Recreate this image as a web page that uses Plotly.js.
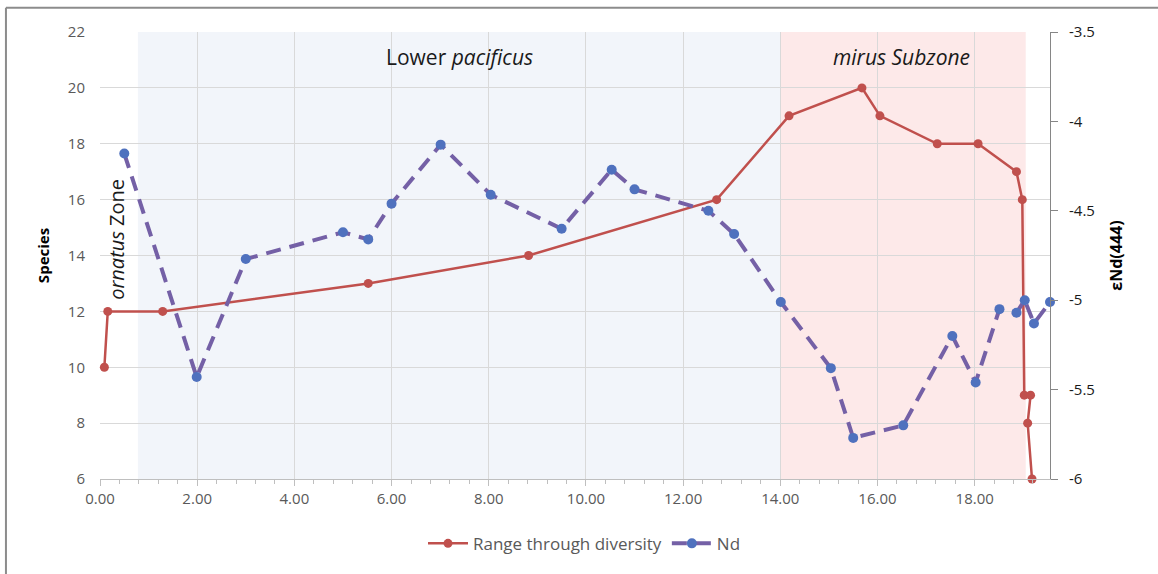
<!DOCTYPE html>
<html>
<head>
<meta charset="utf-8">
<script src="https://cdn.plot.ly/plotly-3.0.1.min.js"></script>
<style>
  html, body { margin: 0; padding: 0; background: #fff; }
  #chart { width: 1158px; height: 574px; }
</style>
</head>
<body>
<div id="chart"></div>
<script>
// Range through diversity (left axis: species)
const diversityX = [0.09, 0.16, 1.29, 5.52, 8.82, 12.69, 14.18, 15.68, 16.05, 17.23, 18.07, 18.86, 18.98, 19.02, 19.15, 19.09, 19.18];
const diversityY = [10, 12, 12, 13, 14, 16, 19, 20, 19, 18, 18, 17, 16, 9, 9, 8, 6];

// Nd (right axis: εNd(444))
const ndX = [0.5, 1.99, 3.0, 5.0, 5.52, 6.0, 7.01, 8.04, 9.5, 10.53, 11.0, 12.52, 13.05, 14.01, 15.04, 15.5, 16.53, 17.54, 18.02, 18.51, 18.86, 19.03, 19.22, 19.55];
const ndY = [-4.18, -5.43, -4.77, -4.62, -4.66, -4.46, -4.13, -4.41, -4.6, -4.27, -4.38, -4.5, -4.63, -5.01, -5.38, -5.77, -5.7, -5.2, -5.46, -5.05, -5.07, -5.0, -5.13, -5.01];

// Zone shading bounds (x units)
const lowerPacificus = [0.78, 14.0];
const mirusSubzone = [14.0, 19.05];

// Tick labels
const xTickVals = [0, 2, 4, 6, 8, 10, 12, 14, 16, 18];
const xTickText = ['0.00', '2.00', '4.00', '6.00', '8.00', '10.00', '12.00', '14.00', '16.00', '18.00'];
const y2TickVals = [-3.5, -4, -4.5, -5, -5.5, -6];
const y2TickText = ['-3.5', '-4', '-4.5', '-5', '-5.5', '-6'];

const FONT = '"Open Sans", Lato, "Liberation Sans", sans-serif';

const traces = [
  {
    x: diversityX, y: diversityY, name: 'Range through diversity',
    type: 'scatter', mode: 'lines+markers',
    line: { color: '#C0504D', width: 2.5 },
    marker: { color: '#C0504D', size: 9 },
    cliponaxis: false,
    yaxis: 'y'
  },
  {
    x: ndX, y: ndY, name: 'Nd',
    type: 'scatter', mode: 'lines+markers',
    line: { color: '#7460A6', width: 4, dash: '15px,9px' },
    marker: { color: '#4F71BE', size: 10 },
    cliponaxis: false,
    yaxis: 'y2'
  }
];

const layout = {
  width: 1158, height: 574,
  margin: { l: 100, r: 108, t: 32, b: 92 },
  paper_bgcolor: '#ffffff',
  plot_bgcolor: '#ffffff',
  font: { family: FONT, size: 15, color: '#595959' },
  showlegend: true,
  legend: {
    orientation: 'h', x: 0.51, xanchor: 'center', y: -0.145, yanchor: 'middle',
    font: { family: FONT, size: 17, color: '#595959' },
    itemwidth: 40
  },
  xaxis: {
    range: [0, 19.55],
    tickvals: xTickVals, ticktext: xTickText,
    showgrid: true, gridcolor: '#D9D9D9', gridwidth: 1,
    zeroline: false,
    showline: true, linecolor: '#BFBFBF', linewidth: 1,
    ticks: 'outside', ticklen: 6, tickcolor: '#BFBFBF',
    minor: { dtick: 0.4, ticks: 'outside', ticklen: 4, tickcolor: '#BFBFBF', showgrid: false },
    tickfont: { family: FONT, size: 15, color: '#595959' }
  },
  yaxis: {
    range: [6, 22], dtick: 2,
    showgrid: true, gridcolor: '#D9D9D9', gridwidth: 1,
    zeroline: false, showline: false, ticks: '',
    ticklabelstandoff: 14,
    tickfont: { family: FONT, size: 15, color: '#595959' },
    title: { text: '<b>Species</b>', font: { family: FONT, size: 15, color: '#000000' }, standoff: 14 }
  },
  yaxis2: {
    overlaying: 'y', side: 'right',
    range: [-6, -3.5],
    tickvals: y2TickVals, ticktext: y2TickText,
    showgrid: false, zeroline: false,
    showline: true, linecolor: '#868686', linewidth: 1,
    ticks: 'outside', ticklen: 7, tickcolor: '#868686',
    ticklabelstandoff: 8,
    tickfont: { family: FONT, size: 15, color: '#1a1a1a' },
    title: { text: '<b>εNd(444)</b>', font: { family: FONT, size: 16, color: '#000000' }, standoff: 16 }
  },
  shapes: [
    { type: 'rect', xref: 'x', yref: 'paper', x0: lowerPacificus[0], x1: lowerPacificus[1], y0: 0, y1: 1,
      fillcolor: '#F2F5FA', line: { width: 0 }, layer: 'below' },
    { type: 'rect', xref: 'x', yref: 'paper', x0: mirusSubzone[0], x1: mirusSubzone[1], y0: 0, y1: 1,
      fillcolor: '#FDE9E9', line: { width: 0 }, layer: 'below' },
    { type: 'line', xref: 'paper', yref: 'paper', x0: -0.099, x1: 1.12, y0: 1.0545, y1: 1.0545,
      line: { color: '#8C8C8C', width: 2 }, layer: 'above' },
    { type: 'line', xref: 'paper', yref: 'paper', x0: -0.099, x1: -0.099, y0: 1.0545, y1: -0.22,
      line: { color: '#8C8C8C', width: 2 }, layer: 'above' }
  ],
  annotations: [
    { text: 'Lower <i>pacificus</i>', x: 7.4, y: 21.1, xref: 'x', yref: 'y', showarrow: false,
      font: { family: FONT, size: 21, color: '#1a1a1a' } },
    { text: '<i>mirus Subzone</i>', x: 16.5, y: 21.1, xref: 'x', yref: 'y', showarrow: false,
      font: { family: FONT, size: 21, color: '#1a1a1a' } },
    { text: '<i>ornatus</i> Zone', x: 0.35, y: 14.56, xref: 'x', yref: 'y', showarrow: false, textangle: -90,
      font: { family: FONT, size: 20, color: '#1a1a1a' } }
  ]
};

Plotly.newPlot('chart', traces, layout, { displayModeBar: false, staticPlot: true });
</script>
</body>
</html>
